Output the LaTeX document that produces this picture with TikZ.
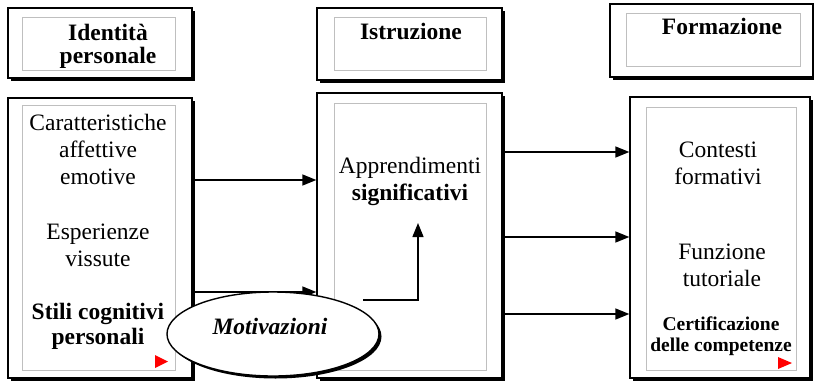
\documentclass[tikz,border=0pt]{standalone}
\usepackage{fontspec}
\setmainfont{Liberation Serif}
\usetikzlibrary{arrows.meta,shapes.geometric,shadows}
\begin{document}
\begin{tikzpicture}[x=1pt, y=-1pt,
  box/.style={shape=rectangle, draw=black, line width=1.3pt, fill=white, inner sep=0pt,
    drop shadow={shadow xshift=2.5pt, shadow yshift=-2.5pt, fill=black, opacity=1}},
  inbox/.style={shape=rectangle, draw=black!25, line width=0.7pt, inner sep=0pt},
  txt/.style={align=center, inner sep=0pt, font=\fontsize{23.5}{27}\selectfont},
  arr/.style={-{Triangle[length=14pt,width=11pt]}, line width=1.4pt, draw=black}]
\useasboundingbox (0,0) rectangle (814,386);
\node[box, minimum width=184pt, minimum height=70pt] (idhead) at (100,43) {};
\node[inbox, minimum width=153pt, minimum height=53pt] (idheadin) at (98.5,43.5) {};
\node[box, minimum width=185pt, minimum height=72pt] (isthead) at (409.5,44) {};
\node[inbox, minimum width=152pt, minimum height=53pt] (istheadin) at (410,43.5) {};
\node[box, minimum width=203pt, minimum height=73pt] (formhead) at (711.5,40.5) {};
\node[inbox, minimum width=174pt, minimum height=53pt] (formheadin) at (713,39.5) {};
\node[box, minimum width=184pt, minimum height=280pt] (idbox) at (100,238) {};
\node[inbox, minimum width=153pt, minimum height=265pt] (idboxin) at (98.5,237.5) {};
\node[box, minimum width=185pt, minimum height=285pt] (istbox) at (409.5,235.5) {};
\node[inbox, minimum width=152pt, minimum height=267pt] (istboxin) at (410,236.5) {};
\node[box, minimum width=180pt, minimum height=281pt] (formbox) at (720,237.5) {};
\node[inbox, minimum width=150pt, minimum height=263pt] (formboxin) at (721,238.5) {};
\node[txt, font=\fontsize{23.5}{23}\selectfont\bfseries] (identita) at (108,46) {Identità\\personale};
\node[txt, font=\fontsize{23.5}{23}\selectfont\bfseries] (istruz) at (411,31) {Istruzione};
\node[txt, font=\fontsize{23.5}{23}\selectfont\bfseries] (formaz) at (722,26) {Formazione};
\node[txt] (caratt) at (98,149) {Caratteristiche\\affettive\\emotive};
\node[txt] (esper) at (98,245) {Esperienze\\vissute};
\node[txt, font=\fontsize{23.5}{25}\selectfont\bfseries] (stili) at (98,326) {Stili cognitivi\\personali};
\node[txt] (appr) at (410,181) {Apprendimenti\\\textbf{significativi}};
\node[txt] (contesti) at (718,163) {Contesti\\formativi};
\node[txt] (funz) at (722,265) {Funzione\\tutoriale};
\node[txt, font=\fontsize{19.5}{21}\selectfont\bfseries] (certif) at (721,336) {Certificazione\\delle competenze};
\fill[red] (155,355) -- (155,368) -- (168,361.5) -- cycle;
\fill[red] (778,357) -- (778,369) -- (792,363) -- cycle;
\coordinate (mstart) at (363,300);
\coordinate (mend) at (418,223);
\draw [arr] ([yshift=58pt]idbox.east) -- ([yshift=55.5pt]istbox.west);
\draw [arr] ([yshift=-54pt]idbox.east) -- ([yshift=-56.5pt]istbox.west);
\draw [arr] ([yshift=83.5pt]istbox.east) -- ([yshift=85.5pt]formbox.west);
\draw [arr] ([yshift=-1.5pt]istbox.east) -- ([yshift=0.5pt]formbox.west);
\draw [arr] ([yshift=-78.5pt]istbox.east) -- ([yshift=-76.5pt]formbox.west);
\draw [arr] (mstart) -| (mend);
\node[shape=ellipse, draw=black, line width=1.4pt, fill=white, minimum width=212pt, minimum height=84pt,
  drop shadow={shadow xshift=2.5pt, shadow yshift=-2.5pt, fill=black, opacity=1}] (motiv) at (273,334) {};
\node[txt, font=\fontsize{23.5}{27}\selectfont\bfseries\itshape] (motivtxt) at (270,326) {Motivazioni};
\end{tikzpicture}
\end{document}
